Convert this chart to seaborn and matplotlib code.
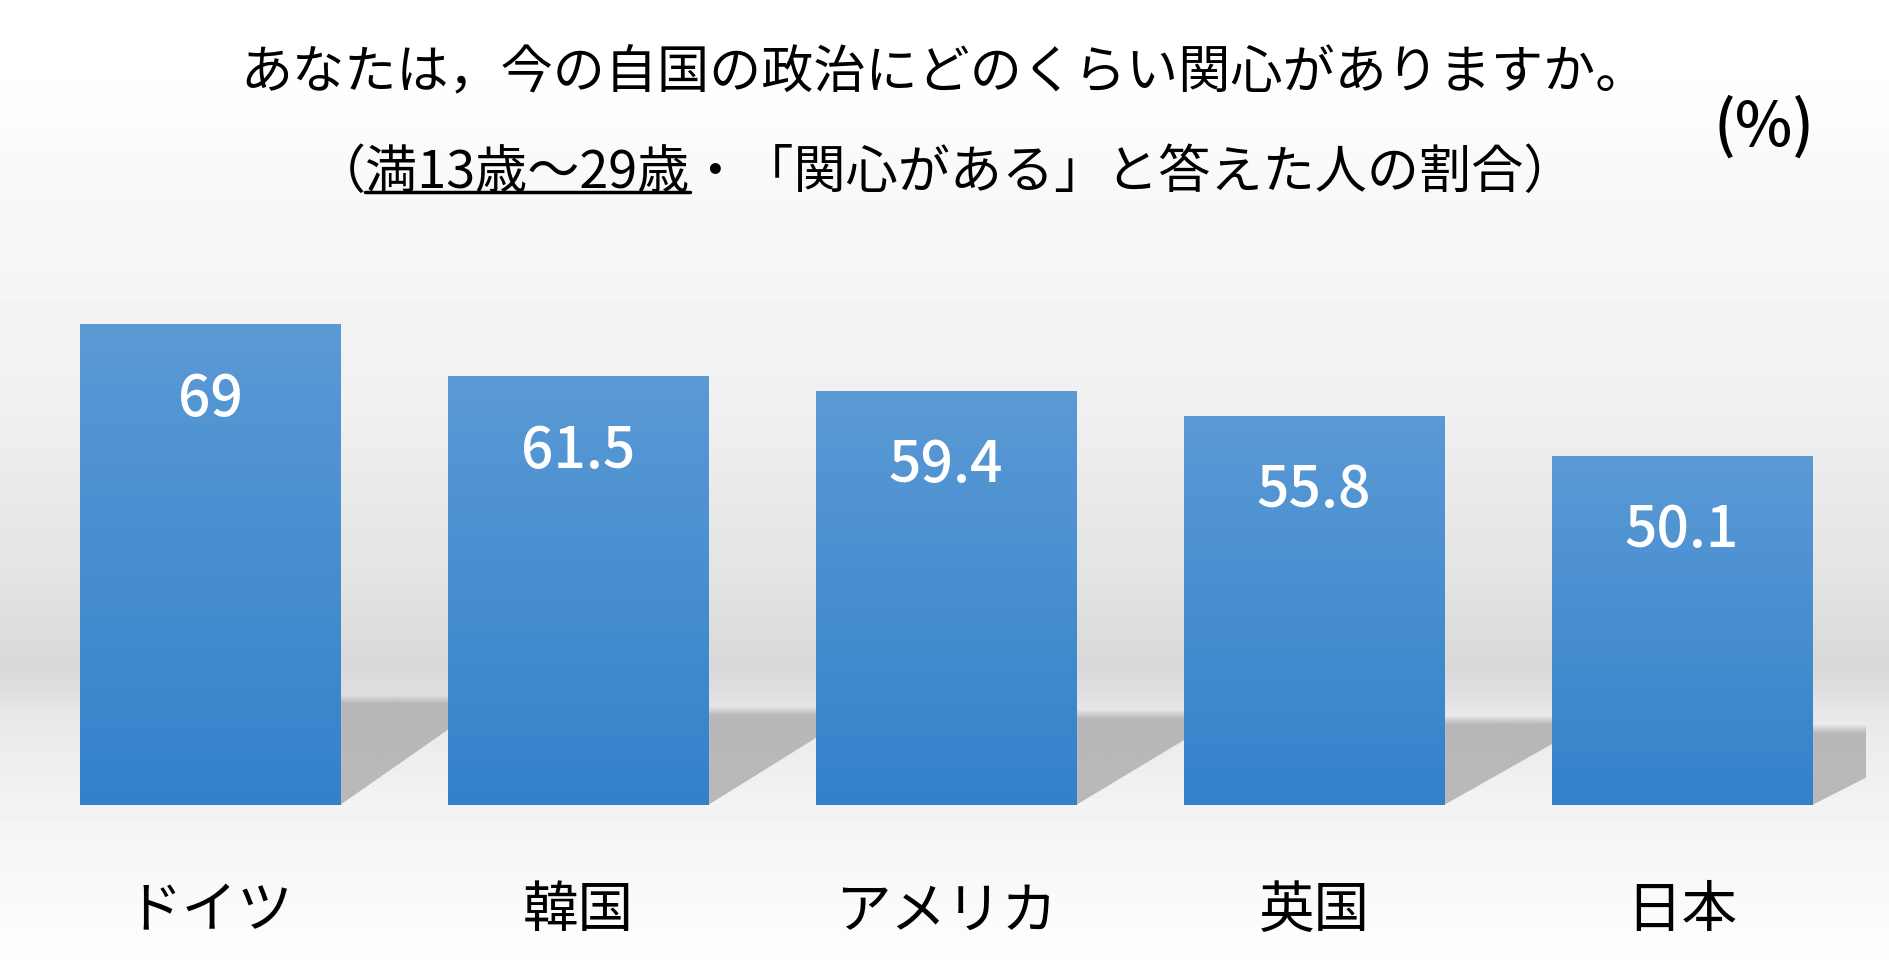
import numpy as np
import pandas as pd
import seaborn as sns
import matplotlib.pyplot as plt
from matplotlib.colors import LinearSegmentedColormap, to_rgb
from matplotlib.patches import Polygon
from matplotlib.lines import Line2D

# Data
countries = ["ドイツ", "韓国", "アメリカ", "英国", "日本"]
values = [69, 61.5, 59.4, 55.8, 50.1]
value_labels = ["69", "61.5", "59.4", "55.8", "50.1"]

title_line1 = "あなたは，今の自国の政治にどのくらい関心がありますか。"
title_line2 = "（満13歳～29歳・「関心がある」と答えた人の割合）"
underlined = "満13歳～29歳"
unit_label = "(%)"

sns.set_theme(style="white")
plt.rcParams["font.family"] = ["Noto Sans CJK JP", "DejaVu Sans"]
plt.rcParams["text.color"] = "black"

W, H = 1889, 967
fig = plt.figure(figsize=(W / 100, H / 100), dpi=100)
fig.patch.set_facecolor("white")

# background: grey "wall" gradient, lighter floor
bg = fig.add_axes([0, 0, 1, 1], zorder=0)
stop_y = [0, 100, 150, 410, 567, 665, 690, 712, 806, 967]
stop_g = [1.0, 0.995, 0.98, 0.94, 0.895, 0.85, 0.87, 0.91, 0.953, 0.998]
g = np.interp(np.arange(H), stop_y, stop_g)
bg.imshow(g[:, None], cmap="gray", vmin=0, vmax=1, aspect="auto", extent=[0, 1, 0, 1])
bg.axis("off")

ax = fig.add_axes([26 / W, 162 / H, 1840 / W, 557 / H], zorder=1)
ax.patch.set_alpha(0)

df = pd.DataFrame({"国": countries, "割合": values})
sns.barplot(data=df, x="国", y="割合", color="#4a90d2", width=0.707, ax=ax, zorder=3)

xmin, xmax = -0.5, 4.5
ax.set_xlim(xmin, xmax)
ax.set_ylim(0, 80)

bar_cmap = LinearSegmentedColormap.from_list("bar", ["#3481cb", "#5a9ad5"])
grad = np.linspace(0, 1, 256)[:, None]
shadow_rgb = to_rgb("#b6b6b6")
bars = list(ax.patches)
for p in bars:
    x0, w, h = p.get_x(), p.get_width(), p.get_height()
    # soft cast shadow behind each bar
    sh, dx = 0.23 * h, 0.43
    poly = Polygon([(x0, 0), (x0 + w, 0), (x0 + w + dx, sh), (x0 + dx, sh)],
                   closed=True, facecolor="none", edgecolor="none")
    ax.add_patch(poly)
    yy = np.linspace(0, sh, 200)[:, None]
    alpha = np.clip((sh - yy) / 1.3, 0, 1) * 0.95
    img = np.zeros((200, 1, 4))
    img[..., :3] = shadow_rgb
    img[..., 3] = alpha
    im = ax.imshow(img, extent=[x0, min(x0 + w + dx, xmax), 0, sh], origin="lower",
                   aspect="auto", zorder=1)
    im.set_clip_path(poly)
    im.set_clip_box(ax.bbox)
    ax.imshow(grad, extent=[x0, x0 + w, 0, h], origin="lower", cmap=bar_cmap,
              aspect="auto", zorder=3)
    p.set_facecolor("none")
    p.set_edgecolor("none")

for p, lab in zip(bars, value_labels):
    ax.annotate(lab, (p.get_x() + p.get_width() / 2, p.get_height()),
                xytext=(0, -75), textcoords="offset pixels",
                ha="center", va="center", color="white", fontsize=41,
                fontweight="medium", zorder=4)

ax.set_xlim(xmin, xmax)
ax.set_ylim(0, 80)
ax.set_xlabel("")
ax.set_ylabel("")
ax.set_yticks([])
ax.tick_params(axis="x", length=0, pad=56, labelsize=40, colors="black")
for s in ax.spines.values():
    s.set_visible(False)

# Titles
fig.text(0.5, 1 - 74 / H, title_line1, ha="center", va="center", fontsize=37.5,
         color="black")
t2 = fig.text(0.5, 1 - 173 / H, title_line2, ha="center", va="center", fontsize=37.5,
              color="black")
fig.text(1764 / W, 1 - 128 / H, unit_label, ha="center", va="center", fontsize=44,
         fontweight="medium", color="black")

# underline part of the second title line
fig.canvas.draw()
renderer = fig.canvas.get_renderer()
bb = t2.get_window_extent(renderer)


def text_w(s):
    tmp = fig.text(0, 0, s, fontsize=37.5)
    w = tmp.get_window_extent(renderer).width
    tmp.remove()
    return w


x_start = bb.x0 + text_w("（満") - text_w("満")
x_end = bb.x0 + text_w("（" + underlined)
uy = 1 - 192 / H
fig.add_artist(Line2D([x_start / W, x_end / W], [uy, uy], transform=fig.transFigure,
                      color="black", lw=2.5))

fig.savefig("out.png", dpi=100)
